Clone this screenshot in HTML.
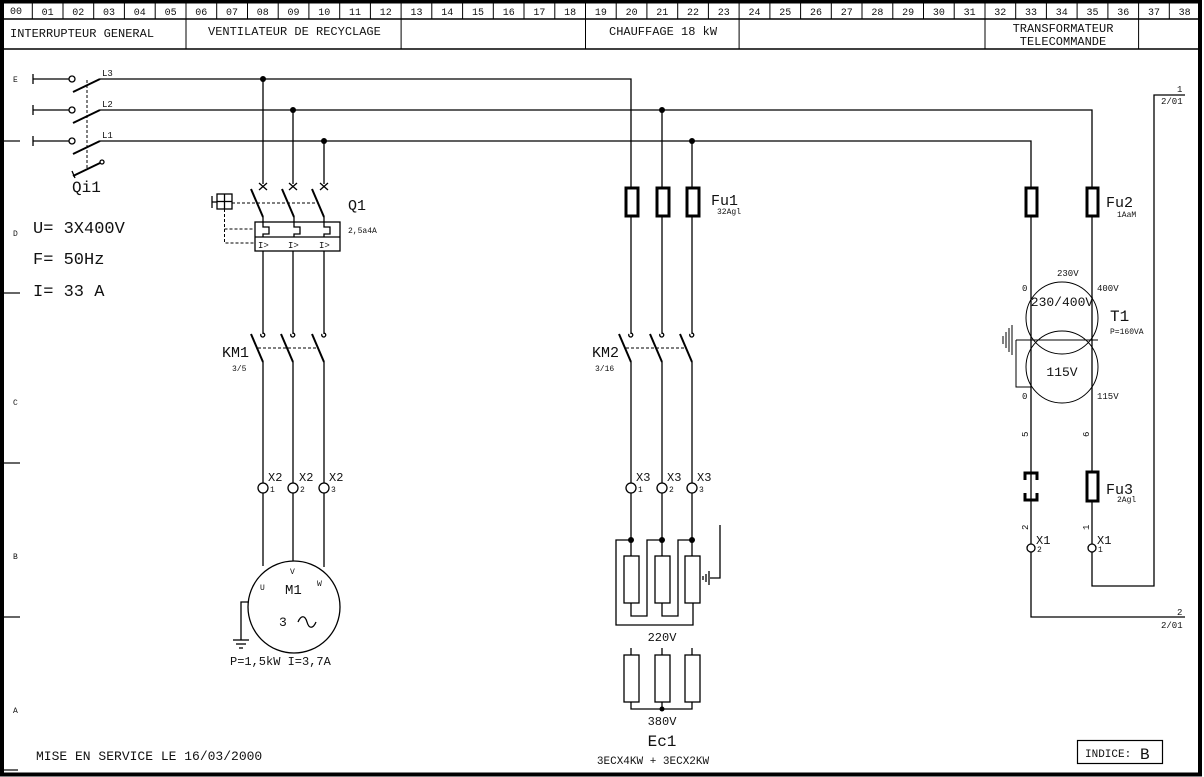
<!DOCTYPE html>
<html><head><meta charset="utf-8"><style>
html,body{margin:0;padding:0;background:#fff}
svg{display:block}
text{font-family:"Liberation Mono","DejaVu Sans Mono",monospace;fill:#111}
</style></head><body>
<svg width="1204" height="777" viewBox="0 0 1204 777" xmlns="http://www.w3.org/2000/svg">
<rect x="0" y="0" width="1204" height="777" fill="#fff"/>
<g stroke="#000" fill="none">
<rect x="2" y="1.5" width="1198" height="773" stroke-width="4"/>
<line x1="4" y1="19" x2="1198" y2="19" stroke-width="1.5"/>
<line x1="4" y1="49" x2="1198" y2="49" stroke-width="1.5"/>
</g>
<g stroke="#000" stroke-width="1">
<line x1="32.3" y1="3" x2="32.3" y2="19"/><line x1="63" y1="3" x2="63" y2="19"/><line x1="93.7" y1="3" x2="93.7" y2="19"/><line x1="124.4" y1="3" x2="124.4" y2="19"/><line x1="155.2" y1="3" x2="155.2" y2="19"/>
<line x1="186" y1="3" x2="186" y2="49"/>
<line x1="216.7" y1="3" x2="216.7" y2="19"/><line x1="247.5" y1="3" x2="247.5" y2="19"/><line x1="278.2" y1="3" x2="278.2" y2="19"/><line x1="308.9" y1="3" x2="308.9" y2="19"/><line x1="339.7" y1="3" x2="339.7" y2="19"/><line x1="370.4" y1="3" x2="370.4" y2="19"/>
<line x1="401.1" y1="3" x2="401.1" y2="49"/>
<line x1="431.8" y1="3" x2="431.8" y2="19"/><line x1="462.6" y1="3" x2="462.6" y2="19"/><line x1="493.3" y1="3" x2="493.3" y2="19"/><line x1="524" y1="3" x2="524" y2="19"/><line x1="554.8" y1="3" x2="554.8" y2="19"/>
<line x1="585.5" y1="3" x2="585.5" y2="49"/>
<line x1="616.2" y1="3" x2="616.2" y2="19"/><line x1="646.9" y1="3" x2="646.9" y2="19"/><line x1="677.7" y1="3" x2="677.7" y2="19"/><line x1="708.4" y1="3" x2="708.4" y2="19"/>
<line x1="739.1" y1="3" x2="739.1" y2="49"/>
<line x1="769.9" y1="3" x2="769.9" y2="19"/><line x1="800.6" y1="3" x2="800.6" y2="19"/><line x1="831.3" y1="3" x2="831.3" y2="19"/><line x1="862" y1="3" x2="862" y2="19"/><line x1="892.8" y1="3" x2="892.8" y2="19"/><line x1="923.5" y1="3" x2="923.5" y2="19"/><line x1="954.2" y1="3" x2="954.2" y2="19"/>
<line x1="985" y1="3" x2="985" y2="49"/>
<line x1="1015.7" y1="3" x2="1015.7" y2="19"/><line x1="1046.4" y1="3" x2="1046.4" y2="19"/><line x1="1077.1" y1="3" x2="1077.1" y2="19"/><line x1="1107.9" y1="3" x2="1107.9" y2="19"/>
<line x1="1138.6" y1="3" x2="1138.6" y2="49"/>
<line x1="1169.3" y1="3" x2="1169.3" y2="19"/>
</g>
<g font-size="10" text-anchor="middle">
<text x="16" y="14">00</text><text x="47.6" y="15">01</text><text x="78.3" y="15">02</text><text x="109" y="15">03</text><text x="139.8" y="15">04</text><text x="170.6" y="15">05</text><text x="201.3" y="15">06</text><text x="232" y="15">07</text><text x="262.8" y="15">08</text><text x="293.5" y="15">09</text><text x="324.3" y="15">10</text><text x="355" y="15">11</text><text x="385.8" y="15">12</text><text x="416.5" y="15">13</text><text x="447.2" y="15">14</text><text x="478" y="15">15</text><text x="508.7" y="15">16</text><text x="539.4" y="15">17</text><text x="570.1" y="15">18</text><text x="600.9" y="15">19</text><text x="631.6" y="15">20</text><text x="662.3" y="15">21</text><text x="693" y="15">22</text><text x="723.8" y="15">23</text><text x="754.5" y="15">24</text><text x="785.2" y="15">25</text><text x="816" y="15">26</text><text x="846.7" y="15">27</text><text x="877.4" y="15">28</text><text x="908.1" y="15">29</text><text x="938.9" y="15">30</text><text x="969.6" y="15">31</text><text x="1000.3" y="15">32</text><text x="1031" y="15">33</text><text x="1061.8" y="15">34</text><text x="1092.5" y="15">35</text><text x="1123.2" y="15">36</text><text x="1154" y="15">37</text><text x="1184.6" y="15">38</text>
</g>
<g font-size="12">
<text x="10" y="37">INTERRUPTEUR GENERAL</text>
<text x="208" y="35">VENTILATEUR DE RECYCLAGE</text>
<text x="609" y="35">CHAUFFAGE 18 kW</text>
<text x="1063" y="32" text-anchor="middle">TRANSFORMATEUR</text>
<text x="1063" y="45" text-anchor="middle">TELECOMMANDE</text>
</g>
<g font-size="8"><text x="13" y="82">E</text><text x="13" y="236">D</text><text x="13" y="405">C</text><text x="13" y="559">B</text><text x="13" y="713">A</text></g>
<g stroke="#000" stroke-width="1.2"><line x1="4" y1="141" x2="20" y2="141"/><line x1="4" y1="293" x2="20" y2="293"/><line x1="4" y1="463" x2="20" y2="463"/><line x1="4" y1="617" x2="20" y2="617"/><line x1="4" y1="770" x2="18" y2="770"/></g>

<g stroke="#000" stroke-width="1.3" fill="none">
<line x1="33" y1="74" x2="33" y2="84"/><line x1="33" y1="79" x2="69" y2="79"/><circle cx="72" cy="79" r="3"/>
<line x1="33" y1="105" x2="33" y2="115"/><line x1="33" y1="110" x2="69" y2="110"/><circle cx="72" cy="110" r="3"/>
<line x1="33" y1="136" x2="33" y2="146"/><line x1="33" y1="141" x2="69" y2="141"/><circle cx="72" cy="141" r="3"/>
<g stroke-width="2"><line x1="73" y1="92" x2="100" y2="79"/><line x1="73" y1="123" x2="100" y2="110"/><line x1="73" y1="154" x2="100" y2="141"/><line x1="73" y1="176" x2="100" y2="163"/></g>
<circle cx="102" cy="162" r="2"/><line x1="72" y1="171" x2="75" y2="178"/>
<line x1="87" y1="80" x2="87" y2="170" stroke-dasharray="3,2" stroke-width="1"/>
<polyline points="100,79 631,79 631,188"/>
<polyline points="100,110 1092,110 1092,188"/>
<polyline points="100,141 1031,141 1031,188"/>
<line x1="662" y1="110" x2="662" y2="188"/><line x1="692" y1="141" x2="692" y2="188"/>
<line x1="263" y1="79" x2="263" y2="184"/><line x1="293" y1="110" x2="293" y2="184"/><line x1="324" y1="141" x2="324" y2="184"/>
</g>
<g fill="#000"><circle cx="263" cy="79" r="3"/><circle cx="293" cy="110" r="3"/><circle cx="324" cy="141" r="3"/><circle cx="662" cy="110" r="3"/><circle cx="692" cy="141" r="3"/></g>
<text x="102" y="76" font-size="9">L3</text><text x="102" y="107" font-size="9">L2</text><text x="102" y="138" font-size="9">L1</text>
<text x="72" y="192" font-size="16">Qi1</text>
<g font-size="17"><text x="33" y="233">U= 3X400V</text><text x="33" y="264">F= 50Hz</text><text x="33" y="296">I= 33 A</text></g>

<g stroke="#000" stroke-width="1.3" fill="none">
<path d="M259,183 l8,7 M267,183 l-8,7 M289,183 l8,7 M297,183 l-8,7 M320,183 l8,7 M328,183 l-8,7"/>
<g stroke-width="2"><line x1="251" y1="189" x2="263" y2="217"/><line x1="282" y1="189" x2="294" y2="217"/><line x1="312" y1="189" x2="324" y2="217"/></g>
<line x1="232" y1="203" x2="318" y2="203" stroke-dasharray="3,2" stroke-width="1"/>
<rect x="217" y="194" width="15" height="15"/><line x1="224.5" y1="194" x2="224.5" y2="209"/><line x1="217" y1="201.5" x2="232" y2="201.5"/>
<line x1="212" y1="196" x2="212" y2="208"/><line x1="212" y1="202" x2="217" y2="202"/>
<path d="M224.5,209 V243 H255 M224.5,229 H255" stroke-dasharray="3,2" stroke-width="1"/>
<rect x="255" y="222" width="85" height="29"/><line x1="255" y1="237" x2="340" y2="237"/>
<path d="M263,217 V227 H269 V234 H263 V237 M294,217 V227 H300 V234 H294 V237 M324,217 V227 H330 V234 H324 V237"/>
<line x1="263" y1="251" x2="263" y2="334"/><line x1="293" y1="251" x2="293" y2="334"/><line x1="324" y1="251" x2="324" y2="334"/>
</g>
<g font-size="9"><text x="258" y="248">I&gt;</text><text x="288" y="248">I&gt;</text><text x="319" y="248">I&gt;</text></g>
<text x="348" y="210" font-size="15">Q1</text><text x="348" y="233" font-size="8">2,5a4A</text>

<g stroke="#000" stroke-width="1.3" fill="none">
<path d="M261,334 a2,2 0 1,0 2,-1 M291,334 a2,2 0 1,0 2,-1 M322,334 a2,2 0 1,0 2,-1 M629,334 a2,2 0 1,0 2,-1 M660,334 a2,2 0 1,0 2,-1 M690,334 a2,2 0 1,0 2,-1"/>
<g stroke-width="2"><line x1="251" y1="334" x2="263" y2="362"/><line x1="281" y1="334" x2="293" y2="362"/><line x1="312" y1="334" x2="324" y2="362"/>
<line x1="619" y1="334" x2="631" y2="362"/><line x1="650" y1="334" x2="662" y2="362"/><line x1="680" y1="334" x2="692" y2="362"/></g>
<line x1="258" y1="348" x2="318" y2="348" stroke-dasharray="3,2" stroke-width="1"/>
<line x1="626" y1="348" x2="686" y2="348" stroke-dasharray="3,2" stroke-width="1"/>
<line x1="263" y1="362" x2="263" y2="483"/><line x1="293" y1="362" x2="293" y2="483"/><line x1="324" y1="362" x2="324" y2="483"/>
<line x1="631" y1="362" x2="631" y2="483"/><line x1="662" y1="362" x2="662" y2="483"/><line x1="692" y1="362" x2="692" y2="483"/>
<circle cx="263" cy="488" r="5"/><circle cx="293" cy="488" r="5"/><circle cx="324" cy="488" r="5"/>
<circle cx="631" cy="488" r="5"/><circle cx="662" cy="488" r="5"/><circle cx="692" cy="488" r="5"/>
<line x1="263" y1="493" x2="263" y2="566"/><line x1="293" y1="493" x2="293" y2="561"/><line x1="324" y1="493" x2="324" y2="567"/>
<line x1="631" y1="493" x2="631" y2="556"/><line x1="662" y1="493" x2="662" y2="556"/><line x1="692" y1="493" x2="692" y2="556"/>
<g stroke-width="3"><rect x="626" y="188" width="12" height="28"/><rect x="657" y="188" width="12" height="28"/><rect x="687" y="188" width="12" height="28"/></g>
<line x1="631" y1="216" x2="631" y2="334"/><line x1="662" y1="216" x2="662" y2="334"/><line x1="692" y1="216" x2="692" y2="334"/>
<circle cx="294" cy="607" r="46"/>
<polyline points="249,602 241,602 241,640"/><line x1="233" y1="640" x2="249" y2="640"/><line x1="236" y1="644" x2="246" y2="644"/><line x1="239" y1="648" x2="243" y2="648"/>
<path d="M298,622 c3,-7 7,-7 9,0 c2,7 6,7 9,0"/>
</g>
<text x="222" y="357" font-size="15">KM1</text><text x="232" y="371" font-size="8">3/5</text>
<text x="592" y="357" font-size="15">KM2</text><text x="595" y="371" font-size="8">3/16</text>
<text x="711" y="205" font-size="15">Fu1</text><text x="717" y="214" font-size="8">32Agl</text>
<g font-size="12"><text x="268" y="481">X2</text><text x="299" y="481">X2</text><text x="329" y="481">X2</text><text x="636" y="481">X3</text><text x="667" y="481">X3</text><text x="697" y="481">X3</text></g>
<g font-size="8"><text x="270" y="492">1</text><text x="300" y="492">2</text><text x="331" y="492">3</text><text x="638" y="492">1</text><text x="669" y="492">2</text><text x="699" y="492">3</text></g>
<g font-size="8"><text x="260" y="590">U</text><text x="290" y="574">V</text><text x="317" y="586">W</text></g>
<text x="285" y="594" font-size="14">M1</text><text x="279" y="626" font-size="13">3</text>
<text x="230" y="665" font-size="12">P=1,5kW  I=3,7A</text>

<g stroke="#000" stroke-width="1.3" fill="none">
<rect x="624" y="556" width="15" height="47"/><rect x="655" y="556" width="15" height="47"/><rect x="685" y="556" width="15" height="47"/>
<polyline points="631,603 631,616 647,616 647,540 662,540"/>
<polyline points="662,603 662,616 678,616 678,540 692,540"/>
<polyline points="693,603 693,625 616,625 616,540 631,540"/>
<polyline points="720,525 720,578 710,578"/>
<line x1="709" y1="571" x2="709" y2="585"/><line x1="706" y1="574" x2="706" y2="582"/><line x1="703" y1="576" x2="703" y2="580"/>
<line x1="631" y1="648" x2="631" y2="655"/><line x1="662" y1="648" x2="662" y2="655"/><line x1="692" y1="648" x2="692" y2="655"/>
<rect x="624" y="655" width="15" height="47"/><rect x="655" y="655" width="15" height="47"/><rect x="685" y="655" width="15" height="47"/>
<polyline points="631,702 631,709 692,709 692,702"/><line x1="662" y1="702" x2="662" y2="709"/>
</g>
<g fill="#000"><circle cx="631" cy="540" r="3"/><circle cx="662" cy="540" r="3"/><circle cx="692" cy="540" r="3"/><circle cx="662" cy="709" r="2.5"/></g>
<text x="662" y="641" font-size="12" text-anchor="middle">220V</text>
<text x="662" y="725" font-size="12" text-anchor="middle">380V</text>
<text x="662" y="746" font-size="16" text-anchor="middle">Ec1</text>
<text x="653" y="764" font-size="11" text-anchor="middle">3ECX4KW + 3ECX2KW</text>

<g stroke="#000" stroke-width="1.3" fill="none">
<g stroke-width="3"><rect x="1026" y="188" width="11" height="28"/><rect x="1087" y="188" width="11" height="28"/></g>
<line x1="1031" y1="216" x2="1031" y2="472"/><line x1="1092" y1="216" x2="1092" y2="472"/>
<circle cx="1062" cy="318" r="36" stroke-width="1"/><circle cx="1062" cy="367" r="36" stroke-width="1"/>
<line x1="1016" y1="340" x2="1098" y2="340" stroke-width="1"/>
<polyline points="1016,340 1016,387 1031,387" stroke-width="1"/>
<line x1="1012" y1="325" x2="1012" y2="355" stroke-width="1"/><line x1="1009" y1="328" x2="1009" y2="352" stroke-width="1"/><line x1="1006" y1="332" x2="1006" y2="348" stroke-width="1"/><line x1="1003" y1="336" x2="1003" y2="344" stroke-width="1"/>
<path d="M1025,480 V473 H1037 V480 M1025,493 V500 H1037 V493" stroke-width="3"/>
<line x1="1031" y1="472" x2="1031" y2="501"/>
<rect x="1087" y="472" width="11" height="29" stroke-width="3"/>
<line x1="1031" y1="501" x2="1031" y2="544"/><line x1="1092" y1="501" x2="1092" y2="544"/>
<circle cx="1031" cy="548" r="4"/><circle cx="1092" cy="548" r="4"/>
<polyline points="1031,552 1031,617 1185,617"/>
<polyline points="1092,552 1092,586 1154,586 1154,95 1185,95"/>
</g>
<text x="1106" y="207" font-size="15">Fu2</text><text x="1117" y="217" font-size="8">1AaM</text>
<text x="1106" y="494" font-size="15">Fu3</text><text x="1117" y="502" font-size="8">2Agl</text>
<g font-size="9"><text x="1057" y="276">230V</text><text x="1022" y="291">0</text><text x="1097" y="291">400V</text><text x="1022" y="399">0</text><text x="1097" y="399">115V</text></g>
<text x="1062" y="306" font-size="13" text-anchor="middle">230/400V</text>
<text x="1062" y="376" font-size="13" text-anchor="middle">115V</text>
<text x="1110" y="321" font-size="16">T1</text><text x="1110" y="334" font-size="8">P=160VA</text>
<g font-size="9"><text transform="translate(1028,437) rotate(-90)">5</text><text transform="translate(1089,437) rotate(-90)">6</text><text transform="translate(1028,530) rotate(-90)">2</text><text transform="translate(1089,530) rotate(-90)">1</text></g>
<g font-size="12"><text x="1036" y="544">X1</text><text x="1097" y="544">X1</text></g>
<g font-size="8"><text x="1037" y="552">2</text><text x="1098" y="552">1</text></g>
<g font-size="9"><text x="1177" y="92">1</text><text x="1161" y="104">2/01</text><text x="1177" y="615">2</text><text x="1161" y="628">2/01</text></g>

<text x="36" y="760" font-size="13">MISE EN SERVICE LE 16/03/2000</text>
<rect x="1077.5" y="740.5" width="85" height="23" fill="none" stroke="#000" stroke-width="1.2"/>
<text x="1085" y="757" font-size="11">INDICE:</text><text x="1140" y="759" font-size="16">B</text>
</svg>
</body></html>
